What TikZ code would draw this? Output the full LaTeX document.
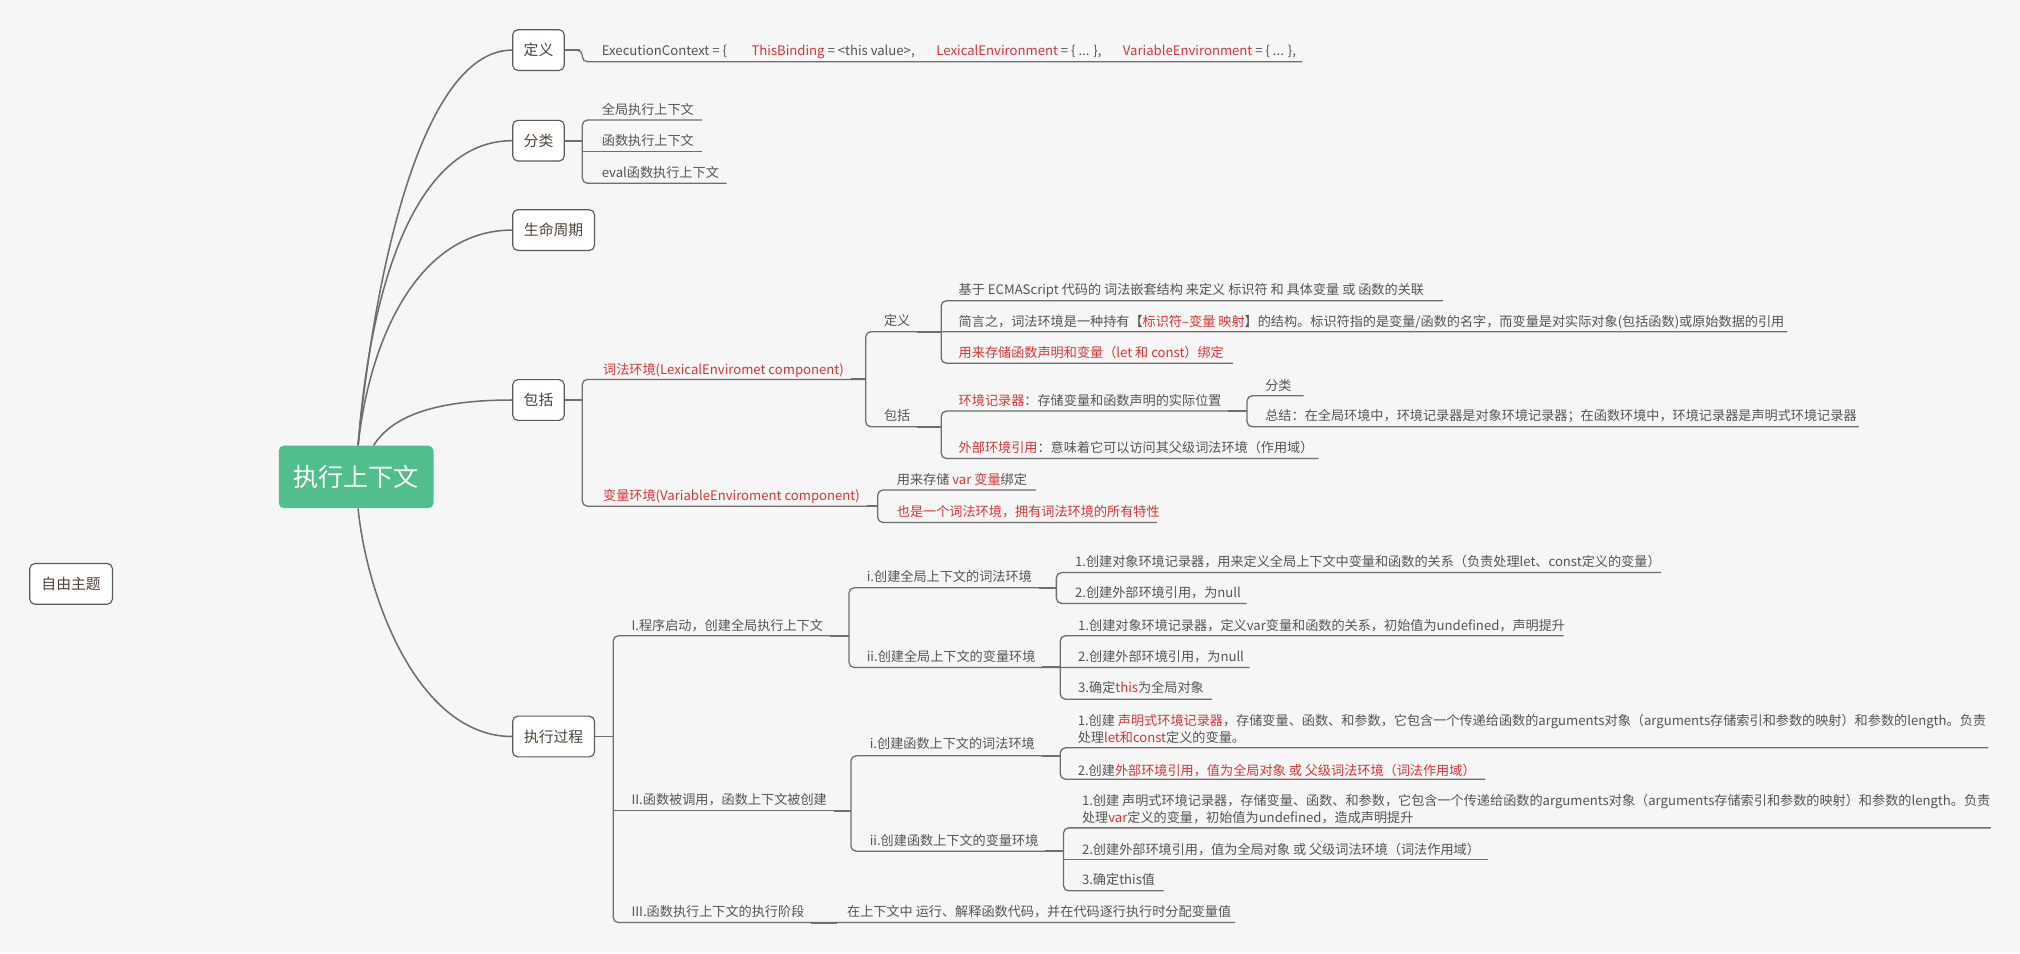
\documentclass[tikz,border=0pt]{standalone}
\usepackage{fontspec}
\setmainfont{Noto Sans CJK SC}
\usepackage{xcolor}
\usetikzlibrary{calc}
\definecolor{bgc}{HTML}{F6F6F6}
\definecolor{lnc}{HTML}{6E6E6E}
\definecolor{txc}{HTML}{555555}
\definecolor{hdc}{HTML}{4E4236}
\definecolor{redc}{HTML}{D5363B}
\definecolor{grn}{HTML}{50BF8B}
\definecolor{bdc}{HTML}{5A5A5A}
\newcommand{\redtx}[1]{\textcolor{redc}{#1}}
\tikzset{
  ln/.style={draw=lnc, line width=1pt, rounded corners=4pt},
  lk/.style={draw=lnc, line width=1.5pt},
  cv/.style={draw=lnc, line width=1.2pt},
  lonebox/.style={draw=bdc, line width=0.9pt, fill=white, rounded corners=4pt,
    minimum height=31.6pt, inner sep=0pt, text=hdc,
    font=\fontsize{11.5}{13}\selectfont, text height=8.7pt, text depth=0pt},
  rootbox/.style={fill=grn, rounded corners=4pt, minimum width=120.1pt,
    minimum height=48.6pt, inner sep=0pt, text=white,
    font=\fontsize{19.5}{22}\selectfont, text height=14.8pt, text depth=0pt},
  txt/.style={anchor=west, inner sep=0pt, text=txc,
    font=\fontsize{10.2}{12}\selectfont, text height=7.8pt, text depth=0pt},
  rtxt/.style={txt, text=redc},
}
% thicker connector from the end of a parent text to its fork
\newcommand{\forklink}[3]{\draw[lk] let \p1=(#1.east), \p2=(#2,#3) in (\x1+5pt,\y2) -- (\p2);}
\begin{document}
\begin{tikzpicture}[x=1pt, y=-1pt]
\fill[bgc] (0,0) rectangle (1568,740);
\useasboundingbox (0,0) rectangle (1568,740);

% root and free topic
\node[rootbox] (root) at (276.45,370.2) {执行上下文};
\node[lonebox, minimum width=64.2pt] (free) at (55.2,453.2) {自由主题};

% level 1
\node[lonebox, minimum width=40pt] (d1) at (418,38.9) {定义};
\node[lonebox, minimum width=40pt] (c1) at (418,109.2) {分类};
\node[lonebox, minimum width=63.5pt] (s1) at (429.7,178.6) {生命周期};
\node[lonebox, minimum width=40pt] (b1) at (418,310.5) {包括};
\node[lonebox, minimum width=63.5pt] (e1) at (429.7,571.7) {执行过程};

% curves
\draw[cv] ([xshift=1.5pt]root.north) .. controls (292,200) and (330,38.9) .. (d1.west);
\draw[cv] ([xshift=1.5pt]root.north) .. controls (288,215) and (325,109.2) .. (c1.west);
\draw[cv] ([xshift=1.5pt]root.north) .. controls (287,262) and (325,178.6) .. (s1.west);
\draw[cv] ([xshift=13.6pt]root.north) .. controls (305,322) and (340,310.5) .. (b1.west);
\draw[cv] ([xshift=1.5pt]root.south) .. controls (285,465) and (325,571.7) .. (e1.west);

% ---- 定义
\draw[ln] (d1.east) -- (452,38.9) -- (452,47.9) -- (1010.7,47.9);
\draw[lk] (d1.east) -- (450,38.9);
\node[txt] (ec1) at (467,39.4) {ExecutionContext = \{};
\node[txt] (ec2) at (583.2,39.4) {\redtx{ThisBinding} = <this value>,};
\node[txt] (ec3) at (726.7,39.4) {\redtx{LexicalEnvironment} = \{ ... \},};
\node[txt] (ec4) at (871.5,39.4) {\redtx{VariableEnvironment} = \{ ... \},};

% ---- 分类
\draw[lk] (c1.east) -- (452,109.2);
\draw[ln] (545,93.2) -- (452,93.2) -- (452,142.3) -- (564,142.3);
\draw[ln] (452,117.8) -- (545,117.8);
\node[txt] (c2) at (467,84.9) {全局执行上下文};
\node[txt] (c3) at (467,109.2) {函数执行上下文};
\node[txt] (c4) at (467,134) {eval函数执行上下文};

% ---- 包括
\draw[lk] (b1.east) -- (452,310.5);
\draw[ln] (672,294.5) -- (452,294.5) -- (452,392.9) -- (681.3,392.9);
\node[rtxt] (lx) at (468,286.5) {词法环境(LexicalEnviromet component)};
\node[rtxt] (vx) at (468,384.8) {变量环境(VariableEnviroment component)};

\draw[ln] (1387.5,257.5) -- (672,257.5) -- (672,331.3) -- (730.6,331.3);
\draw[ln] (1120,233.4) -- (730.6,233.4) -- (730.6,282) -- (957,282);
\draw[ln] (968,319.1) -- (730.6,319.1) -- (730.6,355.9) -- (1023.5,355.9);
\draw[ln] (1012,307.2) -- (968,307.2) -- (968,331.3) -- (1443,331.3);
\draw[ln] (804,380.4) -- (681.3,380.4) -- (681.3,405.5) -- (898,405.5);

\node[txt] (ldef) at (686,249) {定义};
\node[txt] (linc) at (686,322.7) {包括};
\node[txt] (ld1) at (744,225) {基于 ECMAScript 代码的 词法嵌套结构 来定义 标识符 和 具体变量 或 函数的关联};
\node[txt] (ld2) at (744,249.7) {简言之，词法环境是一种持有【\redtx{标识符–变量 映射}】的结构。标识符指的是变量/函数的名字，而变量是对实际对象(包括函数)或原始数据的引用};
\node[rtxt] (ld3) at (744,273.5) {用来存储函数声明和变量（let 和 const）绑定};
\node[txt] (li1) at (744,311) {\redtx{环境记录器}：存储变量和函数声明的实际位置};
\node[txt] (li1a) at (982,299) {分类};
\node[txt] (li1b) at (982,322.7) {总结：在全局环境中，环境记录器是对象环境记录器；在函数环境中，环境记录器是声明式环境记录器};
\node[txt] (li2) at (744,347.3) {\redtx{外部环境引用}：意味着它可以访问其父级词法环境（作用域）};
\node[txt] (v1) at (696,372.2) {用来存储 \redtx{var 变量}绑定};
\node[rtxt] (v2) at (696,397.3) {也是一个词法环境，拥有词法环境的所有特性};

\forklink{lx}{672}{294.5}
\forklink{vx}{681.3}{392.9}
\forklink{ldef}{730.6}{257.5}
\forklink{linc}{730.6}{331.3}
\forklink{li1}{968}{319.1}

% ---- 执行过程
\draw[lk] (e1.east) -- (476,571.7);
\draw[ln] (659,493.5) -- (476,493.5) -- (476,716.1) -- (958.7,716.1);
\draw[ln] (476,629.4) -- (660.5,629.4);
\draw[ln] (820,456.3) -- (659,456.3) -- (659,518.1) -- (970,518.1);
\draw[ln] (1289.4,444.4) -- (820,444.4) -- (820,468.4) -- (967.7,468.4);
\draw[ln] (1213.8,493.5) -- (823,493.5) -- (823,542.7) -- (940.7,542.7);
\draw[ln] (823,586.7) -- (660.5,586.7) -- (660.5,660.7) -- (825.5,660.7);
\draw[ln] (1543.5,580.5) -- (823,580.5) -- (823,604.8) -- (1153,604.8);
\draw[ln] (1545.3,642.6) -- (825.5,642.6) -- (825.5,691.5) -- (903.2,691.5);
\draw[ln] (825.5,667.2) -- (1154.9,667.2);

\node[txt] (p1) at (490,485.2) {I.程序启动，创建全局执行上下文};
\node[txt] (p1a) at (672.7,447.7) {i.创建全局上下文的词法环境};
\node[txt] (p1a1) at (834.3,436.1) {1.创建对象环境记录器，用来定义全局上下文中变量和函数的关系（负责处理let、const定义的变量）};
\node[txt] (p1a2) at (834.3,460) {2.创建外部环境引用，为null};
\node[txt] (p1b) at (672.7,509.8) {ii.创建全局上下文的变量环境};
\node[txt] (p1b1) at (836.7,485.2) {1.创建对象环境记录器，定义var变量和函数的关系，初始值为undefined，声明提升};
\node[txt] (p1b2) at (836.7,509.8) {2.创建外部环境引用，为null};
\node[txt] (p1b3) at (836.7,533.6) {3.确定\redtx{this}为全局对象};
\node[txt] (p2) at (490,620.3) {II.函数被调用，函数上下文被创建};
\node[txt] (p2a) at (675,577.1) {i.创建函数上下文的词法环境};
\node[txt] (p2a1) at (836.4,559) {1.创建 \redtx{声明式环境记录器}，存储变量、函数、和参数，它包含一个传递给函数的arguments对象（arguments存储索引和参数的映射）和参数的length。负责};
\node[txt] (p2a1b) at (836.4,572.5) {处理\redtx{let和const}定义的变量。};
\node[txt] (p2a2) at (836.4,597.8) {2.创建\redtx{外部环境引用，值为全局对象 或 父级词法环境（词法作用域）}};
\node[txt] (p2b) at (675,652.2) {ii.创建函数上下文的变量环境};
\node[txt] (p2b1) at (839.7,621.1) {1.创建 声明式环境记录器，存储变量、函数、和参数，它包含一个传递给函数的arguments对象（arguments存储索引和参数的映射）和参数的length。负责};
\node[txt] (p2b1b) at (839.7,634.6) {处理\redtx{var}定义的变量，初始值为undefined，造成声明提升};
\node[txt] (p2b2) at (839.7,659.2) {2.创建外部环境引用，值为全局对象 或 父级词法环境（词法作用域）};
\node[txt] (p2b3) at (839.7,682.7) {3.确定this值};
\node[txt] (p3) at (490,707.8) {III.函数执行上下文的执行阶段};
\node[txt] (p3a) at (657.4,707.8) {在上下文中 运行、解释函数代码，并在代码逐行执行时分配变量值};

\forklink{p1}{659}{493.5}
\forklink{p1a}{820}{456.3}
\forklink{p1b}{823}{518.1}
\forklink{p2}{660.5}{629.4}
\forklink{p2a}{823}{586.7}
\forklink{p2b}{825.5}{660.7}
\forklink{p3}{650}{716.1}
\end{tikzpicture}
\end{document}
